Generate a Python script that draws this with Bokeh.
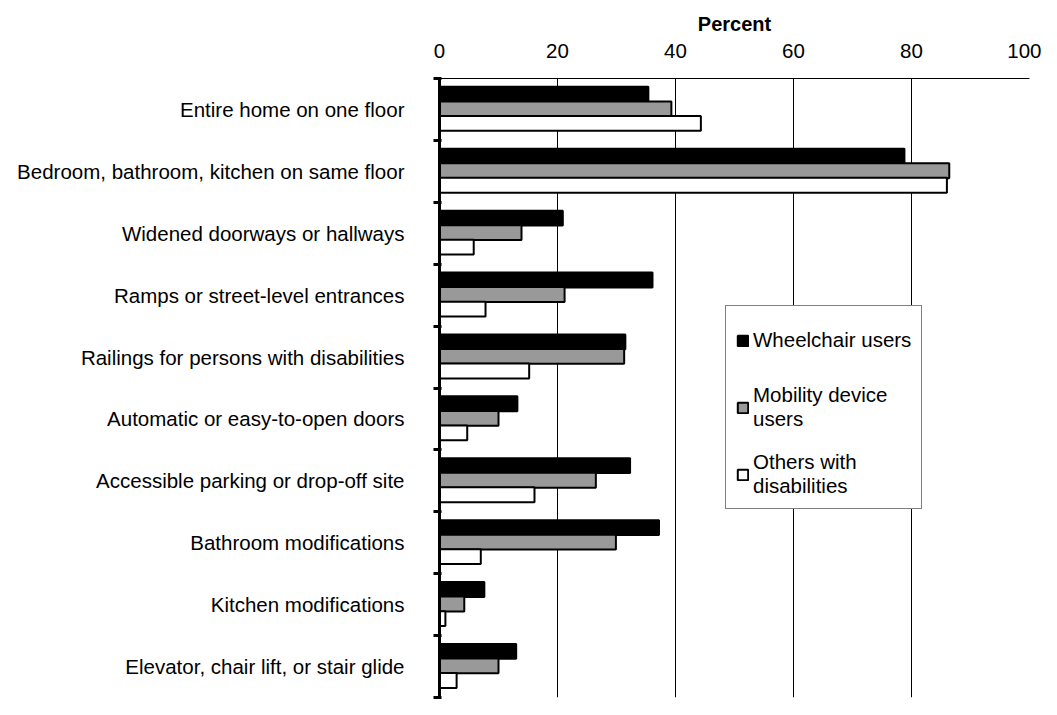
from bokeh.plotting import figure
from bokeh.models import Range1d, FixedTicker, Legend, LegendItem, ColumnDataSource
from bokeh.transform import dodge
from bokeh.embed import file_html
from bokeh.resources import INLINE

categories = [
    "Entire home on one floor",
    "Bedroom, bathroom, kitchen on same floor",
    "Widened doorways or hallways",
    "Ramps or street-level entrances",
    "Railings for persons with disabilities",
    "Automatic or easy-to-open doors",
    "Accessible parking or drop-off site",
    "Bathroom modifications",
    "Kitchen modifications",
    "Elevator, chair lift, or stair glide",
]
wheelchair = [35.4, 78.8, 20.9, 36.1, 31.5, 13.2, 32.3, 37.2, 7.6, 13.0]
mobility = [39.3, 86.4, 13.9, 21.2, 31.3, 10.0, 26.5, 29.9, 4.2, 10.0]
others = [44.3, 86.0, 5.8, 7.8, 15.2, 4.7, 16.1, 7.0, 1.0, 2.9]
series_names = ["Wheelchair users", "Mobility device\nusers", "Others with\ndisabilities"]
x_ticks = [0, 20, 40, 60, 80, 100]

FONT = "Liberation Sans"
FS = "20.5px"
n = len(categories)
pos = [i + 0.5 for i in range(n)]
src = ColumnDataSource(dict(cat=categories, pos=pos, w=wheelchair, m=mobility, o=others))

p = figure(width=1041, height=699, output_backend="svg", toolbar_location=None,
           x_range=Range1d(0, 100), y_range=Range1d(n, 0),
           x_axis_location="above", min_border_left=439, min_border_right=12,
           min_border_top=78, min_border_bottom=2)
p.outline_line_color = None

bh = 0.24
r1 = p.hbar(y=dodge("pos", -0.245, range=p.y_range), right="w", left=0, height=bh, source=src,
            fill_color="#000000", line_color="#000000", line_width=2)
r2 = p.hbar(y=dodge("pos", -0.01, range=p.y_range), right="m", left=0, height=bh, source=src,
            fill_color="#999999", line_color="#000000", line_width=2)
r3 = p.hbar(y=dodge("pos", 0.225, range=p.y_range), right="o", left=0, height=bh, source=src,
            fill_color="#ffffff", line_color="#000000", line_width=2)

# x axis (top)
xa = p.xaxis[0]
xa.ticker = FixedTicker(ticks=x_ticks)
xa.axis_label = "Percent"
xa.axis_label_text_font = FONT
xa.axis_label_text_font_style = "bold"
xa.axis_label_text_font_size = "20px"
xa.axis_label_text_color = "#000000"
xa.axis_label_standoff = 6
xa.major_label_text_font = FONT
xa.major_label_text_font_size = FS
xa.major_label_text_color = "#000000"
xa.major_label_standoff = 21
xa.major_tick_out = 0
xa.major_tick_in = 0
xa.minor_tick_out = 0
xa.minor_tick_in = 0
xa.axis_line_color = "#000000"
xa.axis_line_width = 1

p.xgrid.ticker = FixedTicker(ticks=x_ticks)
p.xgrid.grid_line_color = "#000000"
p.xgrid.grid_line_width = 1
p.ygrid.grid_line_color = None

# y axis (left)
ya = p.yaxis[0]
ya.ticker = FixedTicker(ticks=pos, minor_ticks=list(range(n + 1)))
ya.major_label_overrides = {pv: c for pv, c in zip(pos, categories)}
ya.major_label_text_font = FONT
ya.major_label_text_font_size = FS
ya.major_label_text_color = "#000000"
ya.major_label_standoff = 29
ya.major_tick_out = 0
ya.major_tick_in = 0
ya.minor_tick_out = 6
ya.minor_tick_in = 2
ya.minor_tick_line_width = 3
ya.minor_tick_line_color = "#000000"
ya.axis_line_width = 3
ya.axis_line_color = "#000000"

legend = Legend(items=[LegendItem(label=series_names[0], renderers=[r1]),
                       LegendItem(label=series_names[1], renderers=[r2]),
                       LegendItem(label=series_names[2], renderers=[r3])],
                location=(286, 188))
legend.label_text_font = FONT
legend.label_text_font_size = FS
legend.label_text_color = "#000000"
legend.label_text_line_height = 1.1
legend.glyph_width = 13
legend.glyph_height = 13
legend.label_standoff = 4
legend.label_height = 48
legend.spacing = 19
legend.padding = 10
legend.margin = 0
legend.border_line_color = "#000000"
legend.border_line_width = 1
legend.background_fill_color = "#ffffff"
legend.background_fill_alpha = 1
p.add_layout(legend)

open("out.html", "w").write(file_html(p, INLINE))
